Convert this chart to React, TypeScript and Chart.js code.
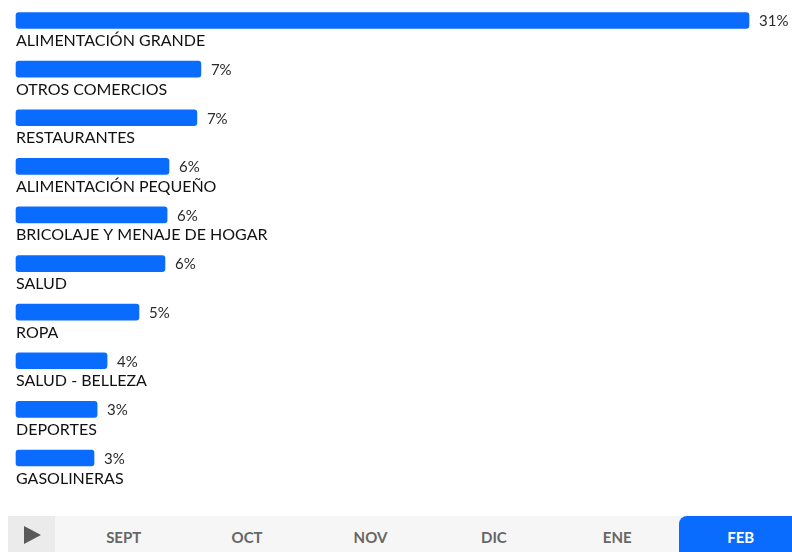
import React, { useEffect, useRef } from "react";
import { Chart, registerables } from "chart.js";

Chart.register(...registerables);

const categories = [
  "ALIMENTACIÓN GRANDE",
  "OTROS COMERCIOS",
  "RESTAURANTES",
  "ALIMENTACIÓN PEQUEÑO",
  "BRICOLAJE Y MENAJE DE HOGAR",
  "SALUD",
  "ROPA",
  "SALUD - BELLEZA",
  "DEPORTES",
  "GASOLINERAS",
];
const values = [31.0, 7.82, 7.65, 6.47, 6.39, 6.3, 5.2, 3.85, 3.43, 3.3];
const valueLabels = ["31%", "7%", "7%", "6%", "6%", "6%", "5%", "4%", "3%", "3%"];
const months = ["SEPT", "OCT", "NOV", "DIC", "ENE", "FEB"];
const activeMonth = "FEB";

const BLUE = "#0a6cff";
const FONT = "Lato, 'Open Sans', sans-serif";

const labelPlugin = {
  id: "barLabels",
  afterDatasetsDraw(chart: any) {
    const ctx = chart.ctx;
    const meta = chart.getDatasetMeta(0);
    ctx.save();
    meta.data.forEach((bar: any, i: number) => {
      const left = chart.chartArea.left;
      ctx.fillStyle = "#111111";
      ctx.font = `16px ${FONT}`;
      ctx.textAlign = "left";
      ctx.textBaseline = "alphabetic";
      ctx.fillText(categories[i], left, bar.y + 25.5);
      ctx.fillStyle = "#2a2a2a";
      ctx.font = `15px ${FONT}`;
      ctx.textBaseline = "middle";
      ctx.fillText(valueLabels[i], bar.x + 10, bar.y + 1);
    });
    ctx.restore();
  },
};

function BarChart() {
  const ref = useRef<HTMLCanvasElement | null>(null);
  useEffect(() => {
    if (!ref.current) return;
    const chart = new Chart(ref.current, {
      type: "bar",
      data: {
        labels: categories,
        datasets: [
          {
            data: values,
            backgroundColor: BLUE,
            borderRadius: 3,
            borderSkipped: false,
            barThickness: 16,
            clip: false as any,
          },
        ],
      },
      options: {
        indexAxis: "y",
        animation: false,
        responsive: false,
        maintainAspectRatio: false,
        layout: { padding: { left: 16, right: 43, top: 20.5, bottom: 52 } },
        plugins: { legend: { display: false }, tooltip: { enabled: false } },
        scales: {
          x: { display: false, min: 0, max: 31 },
          y: { display: false, offset: false, grid: { offset: false } },
        },
      },
      plugins: [labelPlugin],
    });
    return () => chart.destroy();
  }, []);
  return <canvas ref={ref} width={792} height={510} style={{ display: "block" }} />;
}

export default function App() {
  return (
    <div style={{ position: "absolute", left: 0, top: 0, width: 792, height: 552, overflow: "hidden", background: "#fff", fontFamily: FONT }}>
      <div style={{ position: "absolute", left: 0, top: 0 }}>
        <BarChart />
      </div>
      <div style={{ position: "absolute", left: 8, top: 516, width: 820, height: 36, background: "#f6f6f6", display: "flex" }}>
        <div style={{ width: 47, height: 36, background: "#ebebeb", position: "relative", flex: "0 0 47px" }}>
          <div style={{ position: "absolute", left: 16, top: 10, width: 0, height: 0, borderTop: "9px solid transparent", borderBottom: "9px solid transparent", borderLeft: "17px solid #5a5a5a" }} />
        </div>
        <div style={{ flex: "0 0 7px" }} />
        {months.map((m) => (
          <div
            key={m}
            style={{
              flex: "0 0 123.4px",
              height: 36,
              display: "flex",
              alignItems: "center",
              justifyContent: "center",
              fontSize: 15,
              fontWeight: 700,
              color: m === activeMonth ? "#fff" : "#666",
              background: m === activeMonth ? BLUE : "transparent",
              borderTopLeftRadius: m === activeMonth ? 8 : 0,
              borderTopRightRadius: m === activeMonth ? 8 : 0,
              paddingTop: 5,
              boxSizing: "border-box",
            }}
          >
            {m}
          </div>
        ))}
      </div>
    </div>
  );
}
